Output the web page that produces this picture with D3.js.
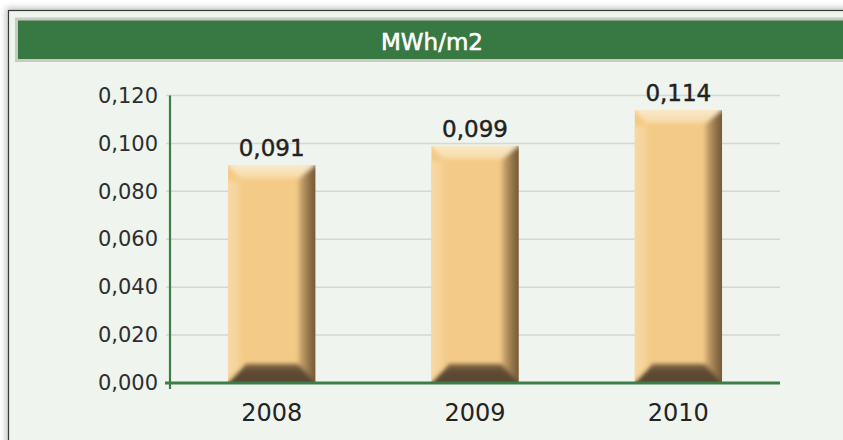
<!DOCTYPE html>
<html>
<head>
<meta charset="utf-8">
<script src="https://cdn.jsdelivr.net/npm/d3@7"></script>
<style>
    body { margin: 0; background: #ffffff; }
    svg { display: block; font-family: "DejaVu Sans", sans-serif; }
</style>
</head>
<body>
<svg id="chart" width="843" height="440"></svg>
<script>
    const years = ['2008', '2009', '2010'];
    const values = [0.091, 0.099, 0.114];
    const y_ticks = [0, 0.02, 0.04, 0.06, 0.08, 0.10, 0.12];
    const title = 'MWh/m2';

    const plot = {left: 170, right: 780, top: 95.5, bottom: 383};

    const svg = d3.select('#chart');
    const defs = svg.append('defs');

    const fmt = v => d3.format('.3f')(v).replace('.', ',');

    // soft shadow round the frame
    defs.append('filter').attr('id', 'frame_shadow')
        .attr('x', '-5%').attr('y', '-10%').attr('width', '110%').attr('height', '120%')
        .append('feGaussianBlur').attr('stdDeviation', 3);

    defs.append('filter').attr('id', 'soft')
        .append('feGaussianBlur').attr('stdDeviation', 2.2);

    function gradient(id, x2, y2, stops) {
        let g = defs.append('linearGradient').attr('id', id)
            .attr('x1', 0).attr('y1', 0).attr('x2', x2).attr('y2', y2);
        stops.forEach(s => g.append('stop').attr('offset', s[0]).attr('stop-color', s[1]));
    }

    gradient('g_top', 0, 1, [[0, '#fbecd3'], [1, '#f7dba8']]);
    gradient('g_left', 1, 0, [[0, '#f8dcab'], [1, '#f5d196']]);
    gradient('g_right', 1, 0, [[0, '#d8b078'], [0.5, '#927349'], [1, '#624b32']]);
    gradient('g_bottom', 0, 1, [[0, '#806645'], [0.35, '#5f4b34'], [1, '#56432e']]);

    // frame
    svg.append('rect')
        .attr('x', 6).attr('y', 8).attr('width', 860).attr('height', 450)
        .attr('fill', '#bdbdbd')
        .attr('filter', 'url(#frame_shadow)');

    svg.append('rect')
        .attr('x', 8.5).attr('y', 10.5).attr('width', 860).attr('height', 450)
        .attr('fill', '#eff4ee')
        .attr('stroke', '#3a3a3a')
        .attr('stroke-width', 1.2);

    // header bar
    svg.append('rect')
        .attr('x', 15).attr('y', 17.5).attr('width', 850).attr('height', 44.5)
        .attr('fill', '#c9cac2');

    svg.append('rect')
        .attr('x', 18).attr('y', 20.5).attr('width', 850).attr('height', 38.5)
        .attr('fill', '#377843');

    svg.append('text')
        .attr('x', 432).attr('y', 49.5)
        .attr('text-anchor', 'middle')
        .attr('fill', '#ffffff')
        .attr('font-size', 23)
        .attr('stroke', '#ffffff')
        .attr('stroke-width', 0.6)
        .text(title);

    let x = d3.scaleBand()
        .domain(years)
        .range([plot.left, plot.right])
        .paddingInner(0.57)
        .paddingOuter(0.285);

    let y = d3.scaleLinear()
        .domain([0, 0.12])
        .range([plot.bottom, plot.top]);

    // gridlines
    svg.append('g').selectAll('line')
        .data(y_ticks.filter(d => d > 0))
        .enter().append('line')
        .attr('x1', 166).attr('x2', plot.right)
        .attr('y1', d => y(d)).attr('y2', d => y(d))
        .attr('stroke', '#d6d6d4')
        .attr('stroke-width', 1.5);

    // y axis
    let y_axis = svg.append('g')
        .attr('transform', 'translate(' + plot.left + ',0)')
        .call(d3.axisLeft(y).tickValues(y_ticks).tickFormat(fmt).tickSize(0).tickPadding(12));

    y_axis.select('.domain').remove();
    y_axis.selectAll('text')
        .attr('font-family', '"DejaVu Sans", sans-serif')
        .attr('font-size', 21)
        .attr('fill', '#2e2e2e');

    // bars
    let bar = svg.append('g').selectAll('.bar')
        .data(values)
        .enter().append('g')
        .attr('class', 'bar');

    bar.each(function (d, i) {
        let g = d3.select(this);
        let x0 = x(years[i]);
        let x1 = x0 + x.bandwidth();
        let y0 = y(d);
        let yb = y(0);
        let b = 16;

        let clip_id = 'clip' + i;
        defs.append('clipPath').attr('id', clip_id)
            .append('rect').attr('x', x0).attr('y', y0).attr('width', x1 - x0).attr('height', yb - y0);

        let inner = g.append('g').attr('clip-path', 'url(#' + clip_id + ')');

        inner.append('rect')
            .attr('x', x0).attr('y', y0).attr('width', x1 - x0).attr('height', yb - y0)
            .attr('fill', '#f3cb87');

        let bevel = inner.append('g').attr('filter', 'url(#soft)');

        let pt = p => p.map(q => q.join(',')).join(' ');

        bevel.append('polygon')
            .attr('points', pt([[x0 - 4, y0 + b], [x0 + 12, y0 + b], [x0 + 12, yb - b], [x0 - 4, yb]]))
            .attr('fill', 'url(#g_left)');
        bevel.append('polygon')
            .attr('points', pt([[x0 - 4, y0 - 4], [x1 + 4, y0 - 4], [x1 - b, y0 + 13], [x0 + 12, y0 + 13]]))
            .attr('fill', 'url(#g_top)');
        bevel.append('polygon')
            .attr('points', pt([[x1 + 4, y0 - 4], [x1 + 4, yb + 4], [x1 - b - 1, yb - 19], [x1 - b - 1, y0 + b - 2]]))
            .attr('fill', 'url(#g_right)');
        bevel.append('polygon')
            .attr('points', pt([[x0 - 4, yb + 4], [x1 + 4, yb + 4], [x1 - b - 1, yb - 19], [x0 + 18, yb - 19]]))
            .attr('fill', 'url(#g_bottom)');

        g.append('text')
            .attr('x', (x0 + x1) / 2)
            .attr('y', y0 - 9)
            .attr('text-anchor', 'middle')
            .attr('font-size', 23)
            .attr('fill', '#222222')
            .attr('stroke', '#222222')
            .attr('stroke-width', 0.45)
            .text(fmt(d));
    });

    // axis lines
    svg.append('line')
        .attr('x1', plot.left).attr('x2', plot.left)
        .attr('y1', plot.top).attr('y2', plot.bottom + 6)
        .attr('stroke', '#3d7d47')
        .attr('stroke-width', 2.2);

    let x_axis = svg.append('g')
        .attr('transform', 'translate(0,' + plot.bottom + ')')
        .call(d3.axisBottom(x).tickSize(0).tickPadding(21));

    x_axis.select('.domain').remove();
    x_axis.selectAll('text')
        .attr('font-family', '"DejaVu Sans", sans-serif')
        .attr('font-size', 24)
        .attr('fill', '#232323');

    svg.append('line')
        .attr('x1', 165).attr('x2', plot.right)
        .attr('y1', plot.bottom).attr('y2', plot.bottom)
        .attr('stroke', '#3d7d47')
        .attr('stroke-width', 2.8);
</script>
</body>
</html>
